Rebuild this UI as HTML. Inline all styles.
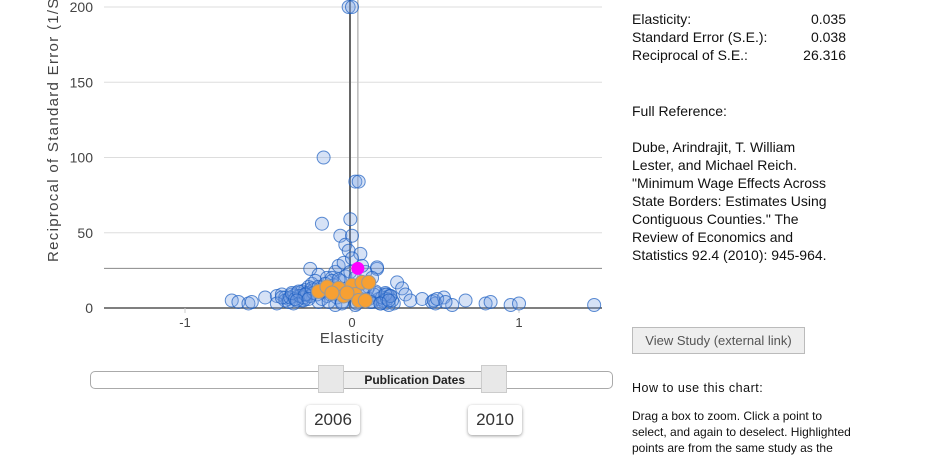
<!DOCTYPE html>
<html><head><meta charset="utf-8">
<style>
body{margin:0;width:929px;height:452px;overflow:hidden;background:#fff;font-family:"Liberation Sans",sans-serif;position:relative}
.side{position:absolute;left:632px;color:#111;font-size:14px;line-height:18px;white-space:nowrap}
.row{display:flex;justify-content:space-between;width:214px}
</style></head><body>
<svg id="chart" width="620" height="350" style="position:absolute;left:0;top:0"></svg>

<div style="position:absolute;left:90px;top:371px;width:523px;height:18px;border:1px solid #aaa;border-radius:5px;box-sizing:border-box;background:#fff"></div>
<div style="position:absolute;left:333px;top:372px;width:160px;height:16px;background:#eee;font-weight:bold;font-size:12px;text-align:center;line-height:16px;color:#222">&nbsp;Publication Dates</div>
<div style="position:absolute;left:318px;top:365px;width:26px;height:28px;background:#e8e8e8;border:1px solid #ccc;box-sizing:border-box"></div>
<div style="position:absolute;left:481px;top:365px;width:26px;height:28px;background:#e8e8e8;border:1px solid #ccc;box-sizing:border-box"></div>
<div style="position:absolute;left:306px;top:405px;width:54px;height:30px;border-radius:4px;box-shadow:0 1px 3px rgba(0,0,0,.4);font-size:17px;line-height:30px;text-align:center;color:#333">2006</div>
<div style="position:absolute;left:468px;top:405px;width:54px;height:30px;border-radius:4px;box-shadow:0 1px 3px rgba(0,0,0,.4);font-size:17px;line-height:30px;text-align:center;color:#333">2010</div>

<div class="side" style="top:10px">
<div class="row"><span>Elasticity:</span><span>0.035</span></div>
<div class="row"><span>Standard Error (S.E.):</span><span>0.038</span></div>
<div class="row"><span>Reciprocal of S.E.:</span><span>26.316</span></div>
</div>
<div class="side" style="top:102px">Full Reference:</div>
<div class="side" style="top:138px">Dube, Arindrajit, T. William<br>Lester, and Michael Reich.<br>"Minimum Wage Effects Across<br>State Borders: Estimates Using<br>Contiguous Counties." The<br>Review of Economics and<br>Statistics 92.4 (2010): 945-964.</div>
<div style="position:absolute;left:632px;top:327px;width:173px;height:27px;box-sizing:border-box;border:1px solid #bbb;background:#eee;color:#555;font-size:13px;line-height:25px;text-align:center">View Study (external link)</div>
<div class="side" style="top:379px;font-size:12.5px;letter-spacing:.5px">How to use this chart:</div>
<div class="side" style="top:408px;font-size:12px;line-height:16px">Drag a box to zoom. Click a point to<br>select, and again to deselect. Highlighted<br>points are from the same study as the</div>

<script>
const xTicks=[-1,0,1];
const yTicks=[0,50,100,150,200];
const blueX=[-0.02,0,-0.17,0.02,0.04,-0.18,-0.01,-0.07,-0.04,0,-0.02,0.05,0.15,0.15,-0.25,-0.2,-0.15,0.27,0.3,0.32,-0.72,-0.68,-0.62,-0.6,-0.52,-0.45,-0.42,-0.4,-0.38,-0.35,-0.33,-0.3,-0.28,-0.26,-0.24,-0.22,-0.3,-0.35,-0.4,0.2,0.22,0.18,0.25,0.35,0.42,0.48,0.5,0.55,0.6,0.68,0.8,0.83,0.95,1,1.45,-0.1,-0.12,-0.08,0.08,0.1,0.12,-0.05,0.06,0,-0.15,-0.2,-0.28,0.2,0.22,-0.45,-0.38,0.02,-0.1,0.14,-0.36,-0.32,-0.27,-0.23,-0.19,-0.16,-0.13,-0.09,0.16,0.19,0.21,0.23,-0.42,-0.34,-0.29,0.12,0.17,-0.06,0.03,0.1,
-0.37,-0.34,-0.31,-0.29,-0.27,-0.25,-0.23,-0.21,-0.19,-0.17,-0.14,-0.11,-0.07,-0.04,-0.01,0.05,0.09,0.13,0.18,0.21,0.24,-0.36,-0.32,-0.28,-0.24,-0.2,-0.16,-0.12,-0.08,0.02,0.08,0.14,0.2,0.23,-0.33,-0.26,-0.18,-0.14,-0.06,0.11,0.17,0.22,0.49,0.51,0.56];
const blueY=[200,200,100,84,84,56,59,48,42,48,38,36,26,27,26,22,20,17,13,9,5,4,3,4,7,8,9,7,6,8,10,11,12,14,16,18,5,3,5,10,8,4,3,5,6,4,3,7,2,5,3,4,2,3,2,24,20,28,24,14,20,30,28,33,8,4,6,3,2,3,4,2,2,10,9,8,10,12,13,11,9,7,6,5,9,8,7,6,5,4,3,4,3,6,
7,6,8,7,9,8,10,9,12,11,13,15,18,21,24,16,12,9,7,6,5,10,11,9,13,14,16,18,19,20,14,11,9,8,5,6,6,4,3,4,3,5,5,6,4];
const orangeX=[-0.2,-0.15,-0.08,-0.05,0,0.02,0.06,0.1,0.04,-0.12,0.08,-0.03];
const orangeY=[11,14,13,8,15,9,17,17,5,10,5,10];
const selX=[0.035];const selY=[26.316];
const svg=document.getElementById('chart');const NS='http://www.w3.org/2000/svg';
const X=v=>352+v*167, Y=v=>308-v*1.505;
function el(t,a,p){const e=document.createElementNS(NS,t);for(const k in a)e.setAttribute(k,a[k]);(p||svg).appendChild(e);return e;}
yTicks.forEach(t=>{
 const l=el('line',{x1:104,x2:602,y1:Y(t),y2:Y(t),stroke:t===0?'#555':'#ddd','stroke-width':t===0?1.5:1});
 
 
 const tx=el('text',{x:93,y:Y(t)+5,'text-anchor':'end','font-size':14,fill:'#444'});tx.textContent=t;
 
 
});
xTicks.forEach(t=>{
 const tk=el('line',{x1:X(t),x2:X(t),y1:308,y2:313,stroke:'#ccc'});
 
 
 const tx=el('text',{x:X(t),y:327,'text-anchor':'middle','font-size':13,fill:'#444'});tx.textContent=t;
 
 
});
let l1=el('line',{x1:X(0)-2,x2:X(0)-2,y1:0,y2:308,stroke:'#666','stroke-width':2});


let l2=el('line',{x1:X(selX[0]),x2:X(selX[0]),y1:0,y2:308,stroke:'#bbb','stroke-width':1.5});


let l3=el('line',{x1:104,x2:602,y1:Y(selY[0]),y2:Y(selY[0]),stroke:'#888','stroke-width':1});


blueX.forEach((v,i)=>{const c=el('circle',{cx:X(v),cy:Y(blueY[i]),r:6.5,fill:'rgba(120,160,225,0.3)',stroke:'#1a5cc0','stroke-opacity':0.7});
 
 });
orangeX.forEach((v,i)=>{const c=el('circle',{cx:X(v),cy:Y(orangeY[i]),r:7,fill:'#f7a032',stroke:'#999'});
 
 });
selX.forEach((v,i)=>{const c=el('circle',{cx:X(v),cy:Y(selY[i]),r:6.5,fill:'#f0f'});
 
 });
const xt=el('text',{x:352,y:343,'text-anchor':'middle','font-size':15,fill:'#444','letter-spacing':'0.5'});xt.textContent='Elasticity';


const yt=el('text',{x:0,y:0,transform:'translate(58,262) rotate(-90)','font-size':15,fill:'#444','letter-spacing':'1.3'});yt.textContent='Reciprocal of Standard Error (1/S.E.)';


</script>
</body></html>
